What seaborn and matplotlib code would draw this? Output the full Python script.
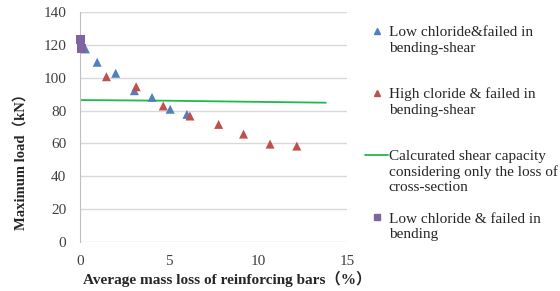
import numpy as np
import matplotlib.pyplot as plt
import seaborn as sns
import pandas as pd
from matplotlib.lines import Line2D

# values

low_bs_x = [0.3, 0.96, 2.0, 3.05, 4.04, 5.06, 6.0]
low_bs_y = [117.5, 109.4, 102.7, 92.1, 88.0, 80.8, 77.7]

high_bs_x = [1.48, 3.15, 4.67, 6.17, 7.78, 9.18, 10.67, 12.17]
high_bs_y = [100.6, 94.5, 82.8, 76.7, 71.6, 65.7, 59.6, 58.4]

low_b_x = [0.05, 0.1]
low_b_y = [123.0, 117.5]

calc_x = [0.0, 5.0, 10.0, 13.8]
calc_y = [86.4, 86.0, 85.3, 84.8]

labels = ['Low chloride&failed in\nbending-shear',
          'High cloride & failed in\nbending-shear',
          'Calcurated shear capacity\nconsidering only the loss of\ncross-section',
          'Low chloride & failed in\nbending']

x_ticks = [0, 5, 10, 15]
y_ticks = [0, 20, 40, 60, 80, 100, 120, 140]

colors = {'blue': '#4F81BD', 'red': '#C0504D', 'green': '#1FB84B', 'purple': '#8064A2'}

# build tidy frame for the scatter series

pts = pd.concat([
    pd.DataFrame({'x': low_bs_x, 'y': low_bs_y, 'group': labels[0]}),
    pd.DataFrame({'x': high_bs_x, 'y': high_bs_y, 'group': labels[1]}),
    pd.DataFrame({'x': low_b_x, 'y': low_b_y, 'group': labels[3]}),
])
line = pd.DataFrame({'x': calc_x, 'y': calc_y})

sns.set_style('white')
plt.rcParams['font.family'] = ['Liberation Serif', 'Noto Sans CJK SC']

fig = plt.figure(figsize=(5.6, 2.91), dpi=100)
ax = fig.add_axes([0.143, 0.168, 0.477, 0.791])

palette = {labels[0]: colors['blue'], labels[1]: colors['red'], labels[3]: colors['purple']}
markers = {labels[0]: '^', labels[1]: '^', labels[3]: 's'}

sns.lineplot(data=line, x='x', y='y', color=colors['green'], lw=1.3, ax=ax, legend=False)
sns.scatterplot(data=pts, x='x', y='y', hue='group', style='group', palette=palette,
                markers=markers, s=42, linewidth=0, ax=ax, legend=False, zorder=3,
                clip_on=False)

ax.set_xlim(0, 15)
ax.set_ylim(0, 140)
ax.set_xticks(x_ticks)
ax.set_yticks(y_ticks)
ax.yaxis.grid(True, color='#D9D9D9', lw=1)
ax.set_axisbelow(True)
for s in ['top', 'right', 'bottom']:
    ax.spines[s].set_visible(False)
ax.spines['left'].set_color('#BFBFBF')
ax.tick_params(axis='y', length=0, pad=10, labelsize=11, labelcolor='#404040')
ax.tick_params(axis='x', length=0, pad=9, labelsize=11, labelcolor='#404040')

ax.set_xlabel('Average mass loss of reinforcing bars（%）', fontsize=11,
              fontweight='bold')
ax.xaxis.set_label_coords(0.55, -0.125)
ax.set_ylabel('Maximum load（kN）', fontsize=10.5, fontweight='bold')
ax.yaxis.set_label_coords(-0.195, 0.365)

# legend on the right: one row per text line so the marker sits on the first line

blank = Line2D([], [], ls='none')
first = [
    Line2D([], [], ls='none', marker='^', color=colors['blue'], ms=5),
    Line2D([], [], ls='none', marker='^', color=colors['red'], ms=5),
    Line2D([], [], color=colors['green'], lw=1.3),
    Line2D([], [], ls='none', marker='s', color=colors['purple'], ms=5),
]
leg_handles, leg_labels = [], []
for i, (h, lab) in enumerate(zip(first, labels)):
    lines = lab.split('\n')
    leg_handles.append(h)
    leg_labels.append(lines[0])
    for extra in lines[1:]:
        leg_handles.append(blank)
        leg_labels.append(extra)
    if i < len(labels) - 1:
        gap = 2 if len(lines) == 2 else 1
        leg_handles += [blank] * gap
        leg_labels += [' '] * gap

fig.legend(leg_handles, leg_labels, loc='upper left', bbox_to_anchor=(0.652, 0.913),
           frameon=False, fontsize=11, labelspacing=0.12, handlelength=1.5,
           handletextpad=0.05, borderpad=0, borderaxespad=0)

plt.savefig('out.png', dpi=100)
